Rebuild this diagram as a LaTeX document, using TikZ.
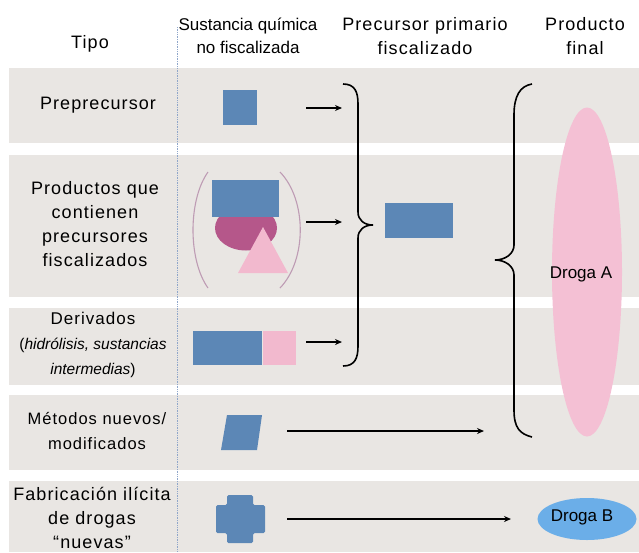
\documentclass[tikz,border=0pt]{standalone}
\usepackage{fontspec}
\setmainfont{Liberation Sans}
\newfontfamily\spacedfont[LetterSpace=6]{Liberation Sans}
\usetikzlibrary{
    arrows.meta,
    positioning,
    shapes.geometric
}
\definecolor{bandgray}{HTML}{E9E6E3}
\definecolor{chemblue}{HTML}{5C87B6}
\definecolor{drugpink}{HTML}{F4C0D4}
\definecolor{softpink}{HTML}{F2B9CE}
\definecolor{mauve}{HTML}{B5578A}
\definecolor{parenmauve}{HTML}{BE9CB4}
\definecolor{drugblue}{HTML}{6BAEE8}
\definecolor{guideblue}{HTML}{8FA6CA}
\tikzset{
    % Colors
    band/.style={fill=bandgray},
    chem blue/.style={rectangle,fill=chemblue,inner sep=0pt},
    chem pink/.style={rectangle,fill=softpink,inner sep=0pt},
    %
    % Lines
    guide line/.style={guideblue,densely dotted,line width=0.7pt},
    brace line/.style={black,line width=1.6pt},
    paren line/.style={parenmauve,line width=1.1pt},
    %
    % Texts
    head text/.style={align=center,inner sep=0pt},
    row text/.style={align=center,inner sep=0pt},
    plain text/.style={inner sep=0pt,font=\normalfont\fontsize{17}{20}\selectfont},
    %
    % Arrows
    arrow tip/.tip={Stealth[length=7pt,width=6pt]},
    arr/.style={->,>={arrow tip},line width=1.5pt}
}
\tikzstyle{every node}=[font=\spacedfont\fontsize{18}{24}\selectfont]

\begin{document}
\begin{tikzpicture}[x=1pt,y=-1pt]
    \useasboundingbox (0,0) rectangle (639,552);
    % rows
    \foreach \top/\bot in {68/143,155/297,308/385,395/470,481/552}
        \fill[band] (9,\top) rectangle (639,\bot);
    \draw[guide line] (177,27) -- (177,552);
    % column heads
    \node[head text] (tipo) at (90,44) {Tipo};
    \node[head text,font=\normalfont\fontsize{17}{23}\selectfont] (sustancia) at (248,36) {Sustancia química\\no fiscalizada};
    \node[head text] (primario) at (425,36) {Precursor primario\\fiscalizado};
    \node[head text] (final) at (585,36) {Producto\\final};
    % row labels
    \node[row text] (preprec) at (98,105) {Preprecursor};
    \node[row text] (productos) at (95,224) {Productos que\\contienen\\precursores\\fiscalizados};
    \node[row text,font=\spacedfont\fontsize{17}{25}\selectfont] (derivados) at (93,345)
        {Derivados\\{\normalfont\fontsize{15.5}{25}\selectfont(\textit{hidrólisis, sustancias}}\\{\normalfont\fontsize{15.5}{25}\selectfont\textit{intermedias})}};
    \node[row text,font=\spacedfont\fontsize{16.5}{25}\selectfont] (metodos) at (97,431) {Métodos nuevos/\\modificados};
    \node[row text] (fabricacion) at (92,518) {Fabricación ilícita\\de drogas\\“nuevas”};
    % substances
    \node[chem blue,minimum width=34pt,minimum height=35pt] (presq) at (240,107.5) {};
    \node[ellipse,fill=mauve,inner sep=0pt,minimum width=62pt,minimum height=45pt] (prodoval) at (246,228) {};
    \node[chem blue,minimum width=67pt,minimum height=37pt] (prodrect) at (245.5,198.5) {};
    \fill[softpink] (263,227) -- (288,273) -- (238,273) -- cycle;
    \draw[paren line] (208,172) .. controls (188,200) and (188,260) .. (208,288);
    \draw[paren line] (280,172) .. controls (307,200) and (307,260) .. (280,288);
    \node[chem blue,minimum width=69pt,minimum height=34pt,anchor=west] (derblue) at (193,348) {};
    \node[chem pink,minimum width=33pt,minimum height=34pt,anchor=west] (derpink) at (derblue.east) {};
    \fill[chemblue] (221,450) -- (257,450) -- (262,415) -- (227,415) -- cycle;
    \fill[chemblue,rounded corners=1.5pt] (227,495) -- (253,495) -- (253,505) -- (265,505) -- (265,533)
        -- (253,533) -- (253,543) -- (227,543) -- (227,533) -- (216,533) -- (216,505) -- (227,505) -- cycle;
    % primary precursor
    \node[chem blue,minimum width=68pt,minimum height=35pt] (primrect) at (419,220.5) {};
    % braces
    \draw[brace line] (343,84) .. controls (355,84) and (358,92) .. (358,104) -- (358,212)
        .. controls (358,220) and (364,225) .. (373,225) .. controls (364,225) and (358,230) .. (358,238)
        -- (358,346) .. controls (358,358) and (355,366) .. (343,366);
    \draw[brace line] (532,84) .. controls (520,86) and (514,96) .. (514,115) -- (514,245)
        .. controls (514,254) and (505,260) .. (495,260) .. controls (505,260) and (514,266) .. (514,275)
        -- (514,410) .. controls (514,428) and (520,434) .. (532,437);
    % end products
    \node[ellipse,fill=drugpink,minimum width=70pt,minimum height=329pt] (drogaAshape) at (587,272) {};
    \node[plain text] (drogaA) at (581,274) {Droga A};
    \node[ellipse,fill=drugblue,minimum width=99pt,minimum height=42pt] (drogaBshape) at (587,519) {};
    \node[plain text] (drogaB) at (582,517) {Droga B};
    % arrows
    \coordinate (a1s) at (306,108);
    \coordinate (a1e) at (342,108);
    \coordinate (a2s) at (306,222);
    \coordinate (a2e) at (342,222);
    \coordinate (a3s) at (306,342);
    \coordinate (a3e) at (342,342);
    \coordinate (a4s) at (287,431);
    \coordinate (a4e) at (484,431);
    \coordinate (a5s) at (287,519);
    \coordinate (a5e) at (511,519);
    \draw[arr] (a1s) -- (a1e);
    \draw[arr] (a2s) -- (a2e);
    \draw[arr] (a3s) -- (a3e);
    \draw[arr] (a4s) -- (a4e);
    \draw[arr] (a5s) -- (a5e);
\end{tikzpicture}
\end{document}
